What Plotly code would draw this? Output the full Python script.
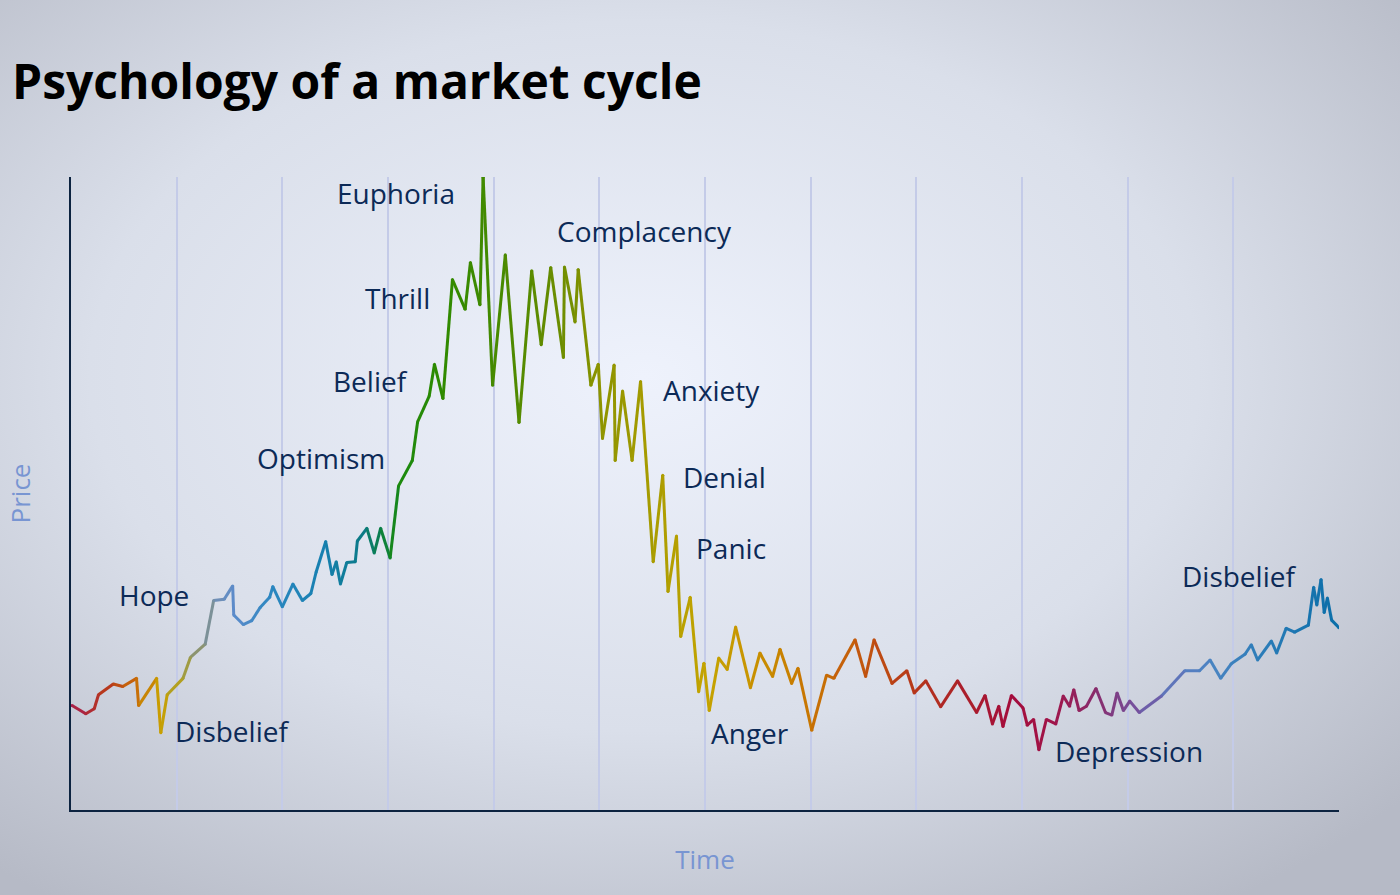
import base64
import plotly.graph_objects as go

# time (cycle units) and price (index, 0-100)
time = [0.01, 0.14, 0.22, 0.26, 0.40, 0.49, 0.62, 0.64, 0.81, 0.85,
        0.91, 1.06, 1.13, 1.27, 1.35, 1.45, 1.53, 1.54, 1.63, 1.71,
        1.79, 1.88, 1.91, 2.00, 2.10, 2.19, 2.27, 2.32, 2.41, 2.47,
        2.51, 2.55, 2.61, 2.69, 2.71, 2.80, 2.87, 2.93, 3.02, 3.10,
        3.23, 3.28, 3.39, 3.44, 3.52, 3.61, 3.73, 3.78, 3.87, 3.90,
        3.99, 4.11, 4.24, 4.36, 4.45, 4.54, 4.66, 4.67, 4.77, 4.80,
        4.92, 4.99, 5.03, 5.14, 5.15, 5.22, 5.31, 5.39, 5.51, 5.60,
        5.65, 5.73, 5.77, 5.86, 5.94, 5.99, 6.04, 6.13, 6.21, 6.29,
        6.43, 6.52, 6.64, 6.71, 6.82, 6.88, 7.01, 7.15, 7.22, 7.42,
        7.52, 7.60, 7.77, 7.91, 7.98, 8.09, 8.23, 8.39, 8.57, 8.65,
        8.72, 8.78, 8.82, 8.90, 9.01, 9.05, 9.11, 9.16, 9.23, 9.32,
        9.39, 9.45, 9.49, 9.54, 9.61, 9.70, 9.79, 9.85, 9.90, 9.96,
        10.02, 10.11, 10.32, 10.54, 10.68, 10.78, 10.88, 10.98, 11.11, 11.17,
        11.23, 11.36, 11.41, 11.50, 11.58, 11.71, 11.76, 11.79, 11.83, 11.86,
        11.89, 11.93, 12.00]
price = [16.5, 15.2, 16.0, 18.2, 19.9, 19.5, 20.8, 16.5, 20.8, 12.2,
         18.2, 20.8, 24.1, 26.2, 33.1, 33.3, 35.4, 30.8, 29.3, 29.9,
         32.0, 33.6, 35.3, 32.1, 35.7, 33.1, 34.2, 37.6, 42.4, 37.2,
         39.2, 35.7, 39.1, 39.2, 42.5, 44.5, 40.6, 44.5, 39.8, 51.2,
         55.2, 61.3, 65.4, 70.4, 65.0, 83.8, 79.1, 86.5, 79.8, 100.0,
         67.1, 87.7, 61.2, 85.2, 73.5, 85.7, 71.5, 85.8, 77.1, 85.4,
         67.1, 70.4, 58.7, 70.3, 55.2, 66.2, 55.2, 67.7, 39.2, 52.9,
         34.5, 43.3, 27.4, 33.6, 18.7, 23.2, 15.7, 24.0, 22.2, 28.9,
         19.3, 24.8, 21.1, 25.4, 20.0, 22.4, 12.6, 21.3, 20.8, 26.9,
         21.1, 26.9, 20.0, 22.0, 18.5, 20.4, 16.3, 20.4, 15.4, 18.1,
         13.6, 16.4, 13.2, 18.1, 16.1, 13.4, 14.3, 9.5, 14.3, 13.6,
         18.0, 16.4, 19.0, 15.7, 16.4, 19.2, 15.4, 15.0, 18.5, 15.7,
         17.2, 15.4, 18.0, 22.0, 22.0, 23.7, 20.8, 23.1, 24.6, 26.1,
         23.7, 26.7, 24.8, 28.7, 28.1, 29.2, 35.2, 32.4, 36.4, 31.2,
         33.5, 30.0, 28.8]

phase_labels = ["Euphoria", "Complacency", "Thrill", "Belief", "Anxiety",
                "Optimism", "Denial", "Panic", "Hope", "Disbelief",
                "Disbelief", "Anger", "Depression"]
label_time = [3.08, 5.43, 3.09, 2.83, 6.06, 2.37, 6.18, 6.25, 0.79, 11.05,
              1.52, 6.43, 10.01]
label_price = [97.5, 91.5, 80.9, 67.8, 66.4, 55.6, 52.6, 41.4, 34.0, 37.0,
               12.5, 12.2, 9.3]

# colour ramp along the time axis
ramp = [(0.0, "#a81e4e"), (0.35, "#b83a1a"), (0.6, "#c86a08"), (0.85, "#c9a000"),
        (1.05, "#a8a030"), (1.2, "#8c9470"), (1.4, "#6f8fb8"), (1.55, "#5b8bcb"),
        (1.9, "#2b87c0"), (2.4, "#1680b0"), (2.75, "#0b7a88"), (2.95, "#0a8040"),
        (3.1, "#1a8a10"), (3.5, "#2e8a00"), (4.0, "#448a00"), (4.5, "#628b00"),
        (5.0, "#8c9400"), (5.5, "#a89c00"), (6.0, "#c4a400"), (6.4, "#c89400"),
        (6.9, "#c87a00"), (7.4, "#c45c0c"), (7.9, "#b83a18"), (8.4, "#ac2228"),
        (8.9, "#a40c3c"), (9.3, "#a0154a"), (9.7, "#882c6c"), (10.1, "#7452a0"),
        (10.5, "#5a7cc0"), (10.8, "#4a84c2"), (11.3, "#2a7cb8"), (12.0, "#0a6ea8")]


def ramp_color(t):
    for (t0, c0), (t1, c1) in zip(ramp, ramp[1:]):
        if t <= t1:
            f = (t - t0) / (t1 - t0) if t1 > t0 else 0
            a = [int(c0[i:i + 2], 16) for i in (1, 3, 5)]
            b = [int(c1[i:i + 2], 16) for i in (1, 3, 5)]
            rgb = [round(a[k] + (b[k] - a[k]) * max(0, min(1, f))) for k in range(3)]
            return "rgb({},{},{})".format(*rgb)
    return ramp[-1][1]


W, H = 1400, 895
ML, MR, MT, MB = 71, 61, 177, 85

fig = go.Figure()

for i in range(len(time) - 1):
    fig.add_trace(go.Scatter(
        x=time[i:i + 2], y=price[i:i + 2], mode="lines",
        line=dict(color=ramp_color((time[i] + time[i + 1]) / 2), width=3),
        showlegend=False, hoverinfo="skip"
    ))
# joint caps so the segments look continuous
fig.add_trace(go.Scatter(
    x=time, y=price, mode="markers",
    marker=dict(size=3, color=[ramp_color(t) for t in time], line=dict(width=0)),
    showlegend=False, hoverinfo="skip"
))

for txt, tx, ty in zip(phase_labels, label_time, label_price):
    fig.add_annotation(x=tx, y=ty, text=txt, showarrow=False,
                       font=dict(family="Open Sans", size=28, color="#0c2a57"))

# radial background
svg = (
    '<svg xmlns="http://www.w3.org/2000/svg" width="1400" height="895">'
    '<defs><radialGradient id="g" cx="46%" cy="42%" r="72%">'
    '<stop offset="0%" stop-color="#eef2fc"/>'
    '<stop offset="55%" stop-color="#dadfea"/>'
    '<stop offset="100%" stop-color="#b6bac6"/>'
    '</radialGradient></defs>'
    '<rect width="1400" height="895" fill="url(#g)"/></svg>'
)
bg = "data:image/svg+xml;base64," + base64.b64encode(svg.encode()).decode()
pw, ph = W - ML - MR, H - MT - MB
fig.add_layout_image(dict(
    source=bg, xref="paper", yref="paper",
    x=-ML / pw, y=1 + MT / ph, sizex=W / pw, sizey=H / ph,
    xanchor="left", yanchor="top", sizing="stretch", layer="below"
))

fig.update_layout(
    width=W, height=H,
    margin=dict(l=ML, r=MR, t=MT, b=MB),
    paper_bgcolor="#d8dce6",
    plot_bgcolor="rgba(0,0,0,0)",
    title=dict(text="<b>Psychology of a market cycle</b>", x=12 / W, xanchor="left",
               xref="container", y=1 - 82 / H, yanchor="middle",
               font=dict(family="Open Sans", size=48, color="#000000")),
    xaxis=dict(range=[0, 12], dtick=1, tick0=0, showticklabels=False, ticks="",
               showgrid=True, gridcolor="#c4cbe8", gridwidth=1.5,
               showline=True, linecolor="#0c2340", linewidth=2, zeroline=False,
               title=dict(text="Time", standoff=40,
                          font=dict(family="Open Sans", size=26, color="#7895d2"))),
    yaxis=dict(range=[0, 100], showticklabels=False, ticks="", showgrid=False,
               showline=True, linecolor="#0c2340", linewidth=2, zeroline=False,
               title=dict(text="Price", standoff=31,
                          font=dict(family="Open Sans", size=26, color="#7895d2"))),
)

fig.write_html("out.html", config={"displayModeBar": False},
               post_script="document.body.style.margin='0';")
